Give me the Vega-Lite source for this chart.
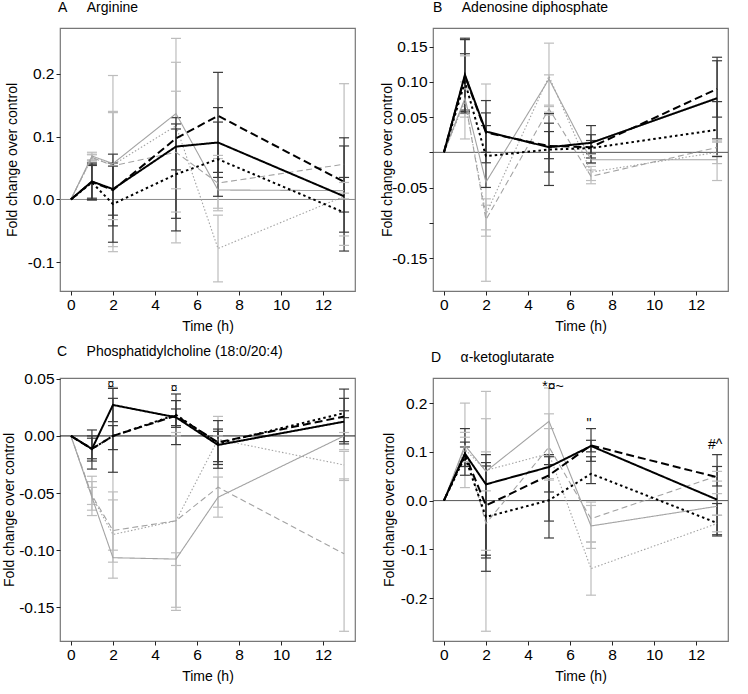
{
"$schema": "https://vega.github.io/schema/vega-lite/v6.json",
"padding": {"left": 1, "top": 0, "right": 0, "bottom": 0},
"background": "white",
"datasets": {
"A": [
{"tone":"g","dash":"solid","t":0,"v":0},{"tone":"g","dash":"solid","t":1,"v":0.069,"lo":0.063,"hi":0.075},{"tone":"g","dash":"solid","t":2,"v":0.057,"lo":-0.083,"hi":0.197},{"tone":"g","dash":"solid","t":5,"v":0.1365,"lo":0.017,"hi":0.256},{"tone":"g","dash":"solid","t":7,"v":0.015,"lo":-0.018,"hi":0.07},{"tone":"g","dash":"solid","t":13,"v":0.014,"lo":0.001,"hi":0.027},
{"tone":"g","dash":"dash","t":0,"v":0},{"tone":"g","dash":"dash","t":1,"v":0.067,"lo":0.062,"hi":0.072},{"tone":"g","dash":"dash","t":2,"v":0.0535,"lo":-0.032,"hi":0.14},{"tone":"g","dash":"dash","t":5,"v":0.075,"lo":-0.02,"hi":0.172},{"tone":"g","dash":"dash","t":7,"v":0.026,"lo":-0.014,"hi":0.065},{"tone":"g","dash":"dash","t":13,"v":0.056,"lo":-0.073,"hi":0.184},
{"tone":"g","dash":"dot","t":0,"v":0},{"tone":"g","dash":"dot","t":1,"v":0.066,"lo":0.061,"hi":0.071},{"tone":"g","dash":"dot","t":2,"v":0.055,"lo":-0.075,"hi":0.138},{"tone":"g","dash":"dot","t":5,"v":0.117,"lo":-0.069,"hi":0.218},{"tone":"g","dash":"dot","t":7,"v":-0.078,"lo":-0.131,"hi":-0.025},{"tone":"g","dash":"dot","t":13,"v":0.005,"lo":-0.058,"hi":0.01},
{"tone":"k","dash":"solid","t":0,"v":0},{"tone":"k","dash":"solid","t":1,"v":0.0286,"lo":-0.001,"hi":0.058},{"tone":"k","dash":"solid","t":2,"v":0.0165,"lo":-0.025,"hi":0.058},{"tone":"k","dash":"solid","t":5,"v":0.084,"lo":0.047,"hi":0.13},{"tone":"k","dash":"solid","t":7,"v":0.0905,"lo":0.035,"hi":0.146},{"tone":"k","dash":"solid","t":13,"v":0.005,"lo":-0.082,"hi":0.098},
{"tone":"k","dash":"dash","t":0,"v":0},{"tone":"k","dash":"dash","t":1,"v":0.028,"lo":0.0,"hi":0.056},{"tone":"k","dash":"dash","t":2,"v":0.015,"lo":-0.042,"hi":0.072},{"tone":"k","dash":"dash","t":5,"v":0.097,"lo":-0.05,"hi":0.12},{"tone":"k","dash":"dash","t":7,"v":0.133,"lo":0.043,"hi":0.202},{"tone":"k","dash":"dash","t":13,"v":0.028,"lo":-0.02,"hi":0.085},
{"tone":"k","dash":"dot","t":0,"v":0},{"tone":"k","dash":"dot","t":1,"v":0.027,"lo":0.002,"hi":0.054},{"tone":"k","dash":"dot","t":2,"v":-0.0073,"lo":-0.068,"hi":0.053},{"tone":"k","dash":"dot","t":5,"v":0.04,"lo":-0.03,"hi":0.112},{"tone":"k","dash":"dot","t":7,"v":0.064,"lo":0.005,"hi":0.123},{"tone":"k","dash":"dot","t":13,"v":-0.0206,"lo":-0.052,"hi":0.035}
],
"B": [
{"tone":"g","dash":"solid","t":0,"v":0},{"tone":"g","dash":"solid","t":1,"v":0.0768,"lo":0.019,"hi":0.137},{"tone":"g","dash":"solid","t":2,"v":-0.0423,"lo":-0.183,"hi":0.097},{"tone":"g","dash":"solid","t":5,"v":0.104,"lo":0.053,"hi":0.155},{"tone":"g","dash":"solid","t":7,"v":-0.0106,"lo":-0.016,"hi":-0.003},{"tone":"g","dash":"solid","t":13,"v":-0.0106,"lo":-0.04,"hi":0.0144},
{"tone":"g","dash":"dash","t":0,"v":0},{"tone":"g","dash":"dash","t":1,"v":0.075,"lo":0.05,"hi":0.1},{"tone":"g","dash":"dash","t":2,"v":-0.0956,"lo":-0.119,"hi":-0.075},{"tone":"g","dash":"dash","t":5,"v":0.0617,"lo":0.057,"hi":0.067},{"tone":"g","dash":"dash","t":7,"v":-0.034,"lo":-0.0446,"hi":-0.025},{"tone":"g","dash":"dash","t":13,"v":0.007,"lo":-0.005,"hi":0.018},
{"tone":"g","dash":"dot","t":0,"v":0},{"tone":"g","dash":"dot","t":1,"v":0.072,"lo":0.055,"hi":0.09},{"tone":"g","dash":"dot","t":2,"v":-0.088,"lo":-0.11,"hi":-0.066},{"tone":"g","dash":"dot","t":5,"v":0.108,"lo":0.065,"hi":0.11},{"tone":"g","dash":"dot","t":7,"v":-0.028,"lo":-0.04,"hi":-0.02},{"tone":"g","dash":"dot","t":13,"v":0.0,"lo":-0.016,"hi":0.016},
{"tone":"k","dash":"solid","t":0,"v":0},{"tone":"k","dash":"solid","t":1,"v":0.11,"lo":0.058,"hi":0.162},{"tone":"k","dash":"solid","t":2,"v":0.0295,"lo":-0.0148,"hi":0.0735},{"tone":"k","dash":"solid","t":5,"v":0.0073,"lo":-0.028,"hi":0.055},{"tone":"k","dash":"solid","t":7,"v":0.0135,"lo":-0.015,"hi":0.038},{"tone":"k","dash":"solid","t":13,"v":0.0768,"lo":0.019,"hi":0.13},
{"tone":"k","dash":"dash","t":0,"v":0},{"tone":"k","dash":"dash","t":1,"v":0.108,"lo":0.056,"hi":0.16},{"tone":"k","dash":"dash","t":2,"v":0.028,"lo":0.0,"hi":0.056},{"tone":"k","dash":"dash","t":5,"v":0.009,"lo":-0.047,"hi":0.0414},{"tone":"k","dash":"dash","t":7,"v":0.0073,"lo":-0.002,"hi":0.0168},{"tone":"k","dash":"dash","t":13,"v":0.09,"lo":0.05,"hi":0.135},
{"tone":"k","dash":"dot","t":0,"v":0},{"tone":"k","dash":"dot","t":1,"v":0.1,"lo":0.06,"hi":0.14},{"tone":"k","dash":"dot","t":2,"v":-0.0054,"lo":-0.0498,"hi":0.038},{"tone":"k","dash":"dot","t":5,"v":0.004,"lo":-0.009,"hi":0.0295},{"tone":"k","dash":"dot","t":7,"v":0.006,"lo":-0.008,"hi":0.025},{"tone":"k","dash":"dot","t":13,"v":0.032,"lo":-0.006,"hi":0.072}
],
"C": [
{"tone":"g","dash":"solid","t":0,"v":0},{"tone":"g","dash":"solid","t":1,"v":-0.0537,"lo":-0.0697,"hi":-0.0353},{"tone":"g","dash":"solid","t":2,"v":-0.1066,"lo":-0.1245,"hi":-0.049},{"tone":"g","dash":"solid","t":5,"v":-0.1078,"lo":-0.1134,"hi":-0.1023},{"tone":"g","dash":"solid","t":7,"v":-0.0537,"lo":-0.0711,"hi":-0.036},{"tone":"g","dash":"solid","t":13,"v":0.0,"lo":-0.012,"hi":0.003},
{"tone":"g","dash":"dash","t":0,"v":0},{"tone":"g","dash":"dash","t":1,"v":-0.052,"lo":-0.06,"hi":-0.045},{"tone":"g","dash":"dash","t":2,"v":-0.0828,"lo":-0.1105,"hi":-0.056},{"tone":"g","dash":"dash","t":5,"v":-0.0743,"lo":-0.15,"hi":0.003},{"tone":"g","dash":"dash","t":7,"v":-0.0449,"lo":-0.0624,"hi":0.0},{"tone":"g","dash":"dash","t":13,"v":-0.1032,"lo":-0.171,"hi":-0.0376},
{"tone":"g","dash":"dot","t":0,"v":0},{"tone":"g","dash":"dot","t":1,"v":-0.053,"lo":-0.065,"hi":-0.04},{"tone":"g","dash":"dot","t":2,"v":-0.0863,"lo":-0.1,"hi":0.0425},{"tone":"g","dash":"dot","t":5,"v":-0.0743,"lo":-0.1527,"hi":0.0},{"tone":"g","dash":"dot","t":7,"v":-0.003,"lo":-0.025,"hi":0.0171},{"tone":"g","dash":"dot","t":13,"v":-0.0254,"lo":-0.039,"hi":-0.0135},
{"tone":"k","dash":"solid","t":0,"v":0},{"tone":"k","dash":"solid","t":1,"v":-0.0114,"lo":-0.029,"hi":0.0052},{"tone":"k","dash":"solid","t":2,"v":0.0271,"lo":0.0125,"hi":0.0416},{"tone":"k","dash":"solid","t":5,"v":0.0163,"lo":-0.0076,"hi":0.0367},{"tone":"k","dash":"solid","t":7,"v":-0.0079,"lo":-0.0283,"hi":0.0134},{"tone":"k","dash":"solid","t":13,"v":0.0125,"lo":-0.007,"hi":0.0329},
{"tone":"k","dash":"dash","t":0,"v":0},{"tone":"k","dash":"dash","t":1,"v":-0.0114,"lo":-0.022,"hi":0.0},{"tone":"k","dash":"dash","t":2,"v":0.0,"lo":-0.0318,"hi":0.0329},{"tone":"k","dash":"dash","t":5,"v":0.0177,"lo":0.009,"hi":0.0309},{"tone":"k","dash":"dash","t":7,"v":-0.0056,"lo":-0.0225,"hi":0.006},{"tone":"k","dash":"dash","t":13,"v":0.017,"lo":-0.005,"hi":0.041},
{"tone":"k","dash":"dot","t":0,"v":0},{"tone":"k","dash":"dot","t":1,"v":-0.0114,"lo":-0.02,"hi":-0.002},{"tone":"k","dash":"dot","t":2,"v":0.0,"lo":-0.012,"hi":0.009},{"tone":"k","dash":"dot","t":5,"v":0.0185,"lo":0.0075,"hi":0.0236},{"tone":"k","dash":"dot","t":7,"v":-0.0065,"lo":-0.025,"hi":0.004},{"tone":"k","dash":"dot","t":13,"v":0.02,"lo":0.016,"hi":0.022}
],
"D": [
{"tone":"g","dash":"solid","t":0,"v":0},{"tone":"g","dash":"solid","t":1,"v":0.1134,"lo":0.0267,"hi":0.2},{"tone":"g","dash":"solid","t":2,"v":0.06,"lo":-0.102,"hi":0.224},{"tone":"g","dash":"solid","t":5,"v":0.1627,"lo":0.094,"hi":0.231},{"tone":"g","dash":"solid","t":7,"v":-0.052,"lo":-0.098,"hi":-0.003},{"tone":"g","dash":"solid","t":13,"v":-0.0117,"lo":-0.03,"hi":0.0143},
{"tone":"g","dash":"dash","t":0,"v":0},{"tone":"g","dash":"dash","t":1,"v":0.11,"lo":0.08,"hi":0.14},{"tone":"g","dash":"dash","t":2,"v":-0.047,"lo":-0.268,"hi":0.168},{"tone":"g","dash":"dash","t":5,"v":0.11,"lo":0.042,"hi":0.178},{"tone":"g","dash":"dash","t":7,"v":-0.037,"lo":-0.085,"hi":-0.01},{"tone":"g","dash":"dash","t":13,"v":0.0505,"lo":0.04,"hi":0.06},
{"tone":"g","dash":"dot","t":0,"v":0},{"tone":"g","dash":"dot","t":1,"v":0.105,"lo":0.08,"hi":0.13},{"tone":"g","dash":"dot","t":2,"v":0.062,"lo":0.02,"hi":0.1},{"tone":"g","dash":"dot","t":5,"v":0.0964,"lo":0.045,"hi":0.1477},{"tone":"g","dash":"dot","t":7,"v":-0.1395,"lo":-0.194,"hi":-0.085},{"tone":"g","dash":"dot","t":13,"v":-0.047,"lo":-0.064,"hi":-0.03},
{"tone":"k","dash":"solid","t":0,"v":0},{"tone":"k","dash":"solid","t":1,"v":0.0964,"lo":0.052,"hi":0.1477},{"tone":"k","dash":"solid","t":2,"v":0.0334,"lo":-0.1177,"hi":0.0943},{"tone":"k","dash":"solid","t":5,"v":0.069,"lo":-0.042,"hi":0.0943},{"tone":"k","dash":"solid","t":7,"v":0.112,"lo":0.0806,"hi":0.1477},{"tone":"k","dash":"solid","t":13,"v":0.002,"lo":-0.0726,"hi":0.0943},
{"tone":"k","dash":"dash","t":0,"v":0},{"tone":"k","dash":"dash","t":1,"v":0.095,"lo":0.07,"hi":0.12},{"tone":"k","dash":"dash","t":2,"v":-0.01,"lo":-0.112,"hi":0.078},{"tone":"k","dash":"dash","t":5,"v":0.052,"lo":0.0177,"hi":0.0738},{"tone":"k","dash":"dash","t":7,"v":0.1134,"lo":0.1,"hi":0.1237},{"tone":"k","dash":"dash","t":13,"v":0.048,"lo":0.03,"hi":0.07},
{"tone":"k","dash":"dot","t":0,"v":0},{"tone":"k","dash":"dot","t":1,"v":0.09,"lo":0.07,"hi":0.11},{"tone":"k","dash":"dot","t":2,"v":-0.0336,"lo":-0.145,"hi":0.071},{"tone":"k","dash":"dot","t":5,"v":0.0006,"lo":-0.0767,"hi":0.09},{"tone":"k","dash":"dot","t":7,"v":0.055,"lo":0.0349,"hi":0.09},{"tone":"k","dash":"dot","t":13,"v":-0.046,"lo":-0.07,"hi":-0.006}
],
"Cann": [{"t":2,"v":0.0454,"label":"¤"},{"t":5,"v":0.0416,"label":"¤"}],
"Dann1": [{"t":5,"v":0.233,"label":"*¤~"}],
"Dann2": [{"t":7,"v":0.1565,"label":"\""},{"t":13,"v":0.115,"label":"#^"}]
},
"bounds": "flush",
"columns": 2,
"spacing": {"row": 87, "column": 78},
"concat": [
{
"title": {"text": "A\u00a0\u00a0\u00a0\u00a0\u00a0Arginine", "dx": -2},
"width": 295, "height": 263,
"data": {"name": "A"},
"resolve": {"scale": {"strokeDash": "independent"}},
"layer": [
{"data": {"values": [{}]}, "mark": {"type": "rule", "color": "#8a8a8a", "strokeWidth": 1}, "encoding": {"y": {"datum": 0, "type": "quantitative", "scale": {"domain": [-0.1455, 0.2725], "nice": false, "zero": false}}}},
{"transform": [{"filter": "datum.t > 0"}], "mark": {"type": "rule", "strokeWidth": 1.2},
 "encoding": {
  "x": {"field": "t", "type": "quantitative", "title": "Time (h)", "scale": {"domain": [-0.52, 13.52], "nice": false, "zero": false}, "axis": {"values": [0,2,4,6,8,10,12]}},
  "y": {"field": "lo", "type": "quantitative", "title": "Fold change over control", "scale": {"domain": [-0.1455, 0.2725], "nice": false, "zero": false}, "axis": {"values": [-0.1,0,0.1,0.2], "titleX": -48, "labelExpr": "datum.value < 0 ? '-' + format(-datum.value, '.1f') : format(datum.value, '.1f')"}},
  "y2": {"field": "hi"},
  "color": {"field": "tone", "type": "nominal", "scale": {"domain": ["g","k"], "range": ["#bdbdbd","#3a3a3a"]}, "legend": null}}},
{"transform": [{"filter": "datum.t > 0"}], "mark": {"type": "tick", "orient": "horizontal", "size": 10, "thickness": 1.2, "opacity": 1},
 "encoding": {"x": {"field": "t", "type": "quantitative", "title": "Time (h)"}, "y": {"field": "lo", "type": "quantitative", "title": "Fold change over control"}, "color": {"field": "tone", "type": "nominal", "legend": null}}},
{"transform": [{"filter": "datum.t > 0"}], "mark": {"type": "tick", "orient": "horizontal", "size": 10, "thickness": 1.2, "opacity": 1},
 "encoding": {"x": {"field": "t", "type": "quantitative", "title": "Time (h)"}, "y": {"field": "hi", "type": "quantitative", "title": "Fold change over control"}, "color": {"field": "tone", "type": "nominal", "legend": null}}},
{"transform": [{"filter": "datum.tone == 'g'"}], "mark": {"type": "line", "color": "#a3a3a3", "strokeWidth": 1.1},
 "encoding": {"x": {"field": "t", "type": "quantitative", "title": "Time (h)"}, "y": {"field": "v", "type": "quantitative", "title": "Fold change over control"}, "strokeDash": {"field": "dash", "type": "nominal", "scale": {"domain": ["solid","dash","dot"], "range": [[1,0],[6,3.5],[1.5,2]]}, "legend": null}}},
{"transform": [{"filter": "datum.tone == 'k'"}], "mark": {"type": "line", "color": "#000000", "strokeWidth": 2},
 "encoding": {"x": {"field": "t", "type": "quantitative", "title": "Time (h)"}, "y": {"field": "v", "type": "quantitative", "title": "Fold change over control"}, "strokeDash": {"field": "dash", "type": "nominal", "scale": {"domain": ["solid","dash","dot"], "range": [[1,0],[8,4],[2.5,3]]}, "legend": null}}}
]
},
{
"title": {"text": "B\u00a0\u00a0\u00a0\u00a0\u00a0Adenosine diphosphate", "dx": 0},
"width": 295, "height": 263,
"data": {"name": "B"},
"resolve": {"scale": {"strokeDash": "independent"}},
"layer": [
{"data": {"values": [{}]}, "mark": {"type": "rule", "color": "#555555", "strokeWidth": 1}, "encoding": {"y": {"datum": 0, "type": "quantitative", "scale": {"domain": [-0.1968, 0.1765], "nice": false, "zero": false}}}},
{"transform": [{"filter": "datum.t > 0"}], "mark": {"type": "rule", "strokeWidth": 1.2},
 "encoding": {
  "x": {"field": "t", "type": "quantitative", "title": "Time (h)", "scale": {"domain": [-0.52, 13.52], "nice": false, "zero": false}, "axis": {"values": [0,2,4,6,8,10,12]}},
  "y": {"field": "lo", "type": "quantitative", "title": "Fold change over control", "scale": {"domain": [-0.1968, 0.1765], "nice": false, "zero": false}, "axis": {"values": [-0.15,-0.1,-0.05,0,0.05,0.1,0.15], "titleX": -46, "labelExpr": "abs(datum.value) < 1e-9 || abs(datum.value + 0.1) < 1e-9 ? '' : (datum.value < 0 ? '-' + format(-datum.value, '.2f') : format(datum.value, '.2f'))"}},
  "y2": {"field": "hi"},
  "color": {"field": "tone", "type": "nominal", "scale": {"domain": ["g","k"], "range": ["#bdbdbd","#3a3a3a"]}, "legend": null}}},
{"transform": [{"filter": "datum.t > 0"}], "mark": {"type": "tick", "orient": "horizontal", "size": 10, "thickness": 1.2, "opacity": 1},
 "encoding": {"x": {"field": "t", "type": "quantitative", "title": "Time (h)"}, "y": {"field": "lo", "type": "quantitative", "title": "Fold change over control"}, "color": {"field": "tone", "type": "nominal", "legend": null}}},
{"transform": [{"filter": "datum.t > 0"}], "mark": {"type": "tick", "orient": "horizontal", "size": 10, "thickness": 1.2, "opacity": 1},
 "encoding": {"x": {"field": "t", "type": "quantitative", "title": "Time (h)"}, "y": {"field": "hi", "type": "quantitative", "title": "Fold change over control"}, "color": {"field": "tone", "type": "nominal", "legend": null}}},
{"transform": [{"filter": "datum.tone == 'g'"}], "mark": {"type": "line", "color": "#a3a3a3", "strokeWidth": 1.1},
 "encoding": {"x": {"field": "t", "type": "quantitative", "title": "Time (h)"}, "y": {"field": "v", "type": "quantitative", "title": "Fold change over control"}, "strokeDash": {"field": "dash", "type": "nominal", "scale": {"domain": ["solid","dash","dot"], "range": [[1,0],[6,3.5],[1.5,2]]}, "legend": null}}},
{"transform": [{"filter": "datum.tone == 'k'"}], "mark": {"type": "line", "color": "#000000", "strokeWidth": 2},
 "encoding": {"x": {"field": "t", "type": "quantitative", "title": "Time (h)"}, "y": {"field": "v", "type": "quantitative", "title": "Fold change over control"}, "strokeDash": {"field": "dash", "type": "nominal", "scale": {"domain": ["solid","dash","dot"], "range": [[1,0],[8,4],[2.5,3]]}, "legend": null}}}
]
},
{
"title": {"text": "C\u00a0\u00a0\u00a0\u00a0\u00a0Phosphatidylcholine (18:0/20:4)", "dx": -3},
"width": 295, "height": 263,
"data": {"name": "C"},
"resolve": {"scale": {"strokeDash": "independent"}},
"layer": [
{"data": {"values": [{}]}, "mark": {"type": "rule", "color": "#111111", "strokeWidth": 1}, "encoding": {"y": {"datum": 0, "type": "quantitative", "scale": {"domain": [-0.1795, 0.0507], "nice": false, "zero": false}}}},
{"transform": [{"filter": "datum.t > 0"}], "mark": {"type": "rule", "strokeWidth": 1.2},
 "encoding": {
  "x": {"field": "t", "type": "quantitative", "title": "Time (h)", "scale": {"domain": [-0.52, 13.52], "nice": false, "zero": false}, "axis": {"values": [0,2,4,6,8,10,12]}},
  "y": {"field": "lo", "type": "quantitative", "title": "Fold change over control", "scale": {"domain": [-0.1795, 0.0507], "nice": false, "zero": false}, "axis": {"values": [-0.15,-0.1,-0.05,0,0.05], "titleX": -51, "labelExpr": "datum.value < 0 ? '-' + format(-datum.value, '.2f') : format(datum.value, '.2f')"}},
  "y2": {"field": "hi"},
  "color": {"field": "tone", "type": "nominal", "scale": {"domain": ["g","k"], "range": ["#bdbdbd","#3a3a3a"]}, "legend": null}}},
{"transform": [{"filter": "datum.t > 0"}], "mark": {"type": "tick", "orient": "horizontal", "size": 10, "thickness": 1.2, "opacity": 1},
 "encoding": {"x": {"field": "t", "type": "quantitative", "title": "Time (h)"}, "y": {"field": "lo", "type": "quantitative", "title": "Fold change over control"}, "color": {"field": "tone", "type": "nominal", "legend": null}}},
{"transform": [{"filter": "datum.t > 0"}], "mark": {"type": "tick", "orient": "horizontal", "size": 10, "thickness": 1.2, "opacity": 1},
 "encoding": {"x": {"field": "t", "type": "quantitative", "title": "Time (h)"}, "y": {"field": "hi", "type": "quantitative", "title": "Fold change over control"}, "color": {"field": "tone", "type": "nominal", "legend": null}}},
{"transform": [{"filter": "datum.tone == 'g'"}], "mark": {"type": "line", "color": "#a3a3a3", "strokeWidth": 1.1},
 "encoding": {"x": {"field": "t", "type": "quantitative", "title": "Time (h)"}, "y": {"field": "v", "type": "quantitative", "title": "Fold change over control"}, "strokeDash": {"field": "dash", "type": "nominal", "scale": {"domain": ["solid","dash","dot"], "range": [[1,0],[6,3.5],[1.5,2]]}, "legend": null}}},
{"transform": [{"filter": "datum.tone == 'k'"}], "mark": {"type": "line", "color": "#000000", "strokeWidth": 2},
 "encoding": {"x": {"field": "t", "type": "quantitative", "title": "Time (h)"}, "y": {"field": "v", "type": "quantitative", "title": "Fold change over control"}, "strokeDash": {"field": "dash", "type": "nominal", "scale": {"domain": ["solid","dash","dot"], "range": [[1,0],[8,4],[2.5,3]]}, "legend": null}}},
{"data": {"name": "Cann"}, "mark": {"type": "text", "fontSize": 12, "baseline": "middle", "align": "center", "dx": -2, "color": "#000000"},
 "encoding": {"x": {"field": "t", "type": "quantitative", "title": "Time (h)"}, "y": {"field": "v", "type": "quantitative", "title": "Fold change over control"}, "text": {"field": "label"}}}
]
},
{
"title": {"text": "D\u00a0\u00a0\u00a0\u00a0\u00a0α-ketoglutarate", "dx": -2},
"width": 295, "height": 263,
"data": {"name": "D"},
"resolve": {"scale": {"strokeDash": "independent"}},
"layer": [
{"data": {"values": [{}]}, "mark": {"type": "rule", "color": "#555555", "strokeWidth": 1}, "encoding": {"y": {"datum": 0, "type": "quantitative", "scale": {"domain": [-0.288, 0.2515], "nice": false, "zero": false}}}},
{"transform": [{"filter": "datum.t > 0"}], "mark": {"type": "rule", "strokeWidth": 1.2},
 "encoding": {
  "x": {"field": "t", "type": "quantitative", "title": "Time (h)", "scale": {"domain": [-0.52, 13.52], "nice": false, "zero": false}, "axis": {"values": [0,2,4,6,8,10,12]}},
  "y": {"field": "lo", "type": "quantitative", "title": "Fold change over control", "scale": {"domain": [-0.288, 0.2515], "nice": false, "zero": false}, "axis": {"values": [-0.2,-0.1,0,0.1,0.2], "titleX": -44, "labelExpr": "datum.value < 0 ? '-' + format(-datum.value, '.1f') : format(datum.value, '.1f')"}},
  "y2": {"field": "hi"},
  "color": {"field": "tone", "type": "nominal", "scale": {"domain": ["g","k"], "range": ["#bdbdbd","#3a3a3a"]}, "legend": null}}},
{"transform": [{"filter": "datum.t > 0"}], "mark": {"type": "tick", "orient": "horizontal", "size": 10, "thickness": 1.2, "opacity": 1},
 "encoding": {"x": {"field": "t", "type": "quantitative", "title": "Time (h)"}, "y": {"field": "lo", "type": "quantitative", "title": "Fold change over control"}, "color": {"field": "tone", "type": "nominal", "legend": null}}},
{"transform": [{"filter": "datum.t > 0"}], "mark": {"type": "tick", "orient": "horizontal", "size": 10, "thickness": 1.2, "opacity": 1},
 "encoding": {"x": {"field": "t", "type": "quantitative", "title": "Time (h)"}, "y": {"field": "hi", "type": "quantitative", "title": "Fold change over control"}, "color": {"field": "tone", "type": "nominal", "legend": null}}},
{"transform": [{"filter": "datum.tone == 'g'"}], "mark": {"type": "line", "color": "#a3a3a3", "strokeWidth": 1.1},
 "encoding": {"x": {"field": "t", "type": "quantitative", "title": "Time (h)"}, "y": {"field": "v", "type": "quantitative", "title": "Fold change over control"}, "strokeDash": {"field": "dash", "type": "nominal", "scale": {"domain": ["solid","dash","dot"], "range": [[1,0],[6,3.5],[1.5,2]]}, "legend": null}}},
{"transform": [{"filter": "datum.tone == 'k'"}], "mark": {"type": "line", "color": "#000000", "strokeWidth": 2},
 "encoding": {"x": {"field": "t", "type": "quantitative", "title": "Time (h)"}, "y": {"field": "v", "type": "quantitative", "title": "Fold change over control"}, "strokeDash": {"field": "dash", "type": "nominal", "scale": {"domain": ["solid","dash","dot"], "range": [[1,0],[8,4],[2.5,3]]}, "legend": null}}},
{"data": {"name": "Dann1"}, "mark": {"type": "text", "fontSize": 14, "baseline": "middle", "align": "center", "dx": 4, "color": "#000000"},
 "encoding": {"x": {"field": "t", "type": "quantitative", "title": "Time (h)"}, "y": {"field": "v", "type": "quantitative", "title": "Fold change over control"}, "text": {"field": "label"}}},
{"data": {"name": "Dann2"}, "mark": {"type": "text", "fontSize": 14, "baseline": "middle", "align": "center", "dx": -2, "color": "#000000"},
 "encoding": {"x": {"field": "t", "type": "quantitative", "title": "Time (h)"}, "y": {"field": "v", "type": "quantitative", "title": "Fold change over control"}, "text": {"field": "label"}}}
]
}
],
"config": {
 "font": "Liberation Sans",
 "view": {"stroke": "#777777", "strokeWidth": 1.2},
 "title": {"anchor": "start", "frame": "group", "fontSize": 14, "fontWeight": "normal", "font": "Liberation Sans", "color": "#000000", "baseline": "alphabetic", "offset": 13},
 "axis": {"domain": false, "grid": false, "tickSize": 4, "tickColor": "#222222", "labelPadding": 2, "labelFontSize": 15.5, "labelFont": "Liberation Sans", "labelColor": "#000000", "titleFontSize": 14, "titleFont": "Liberation Sans", "titleFontWeight": "normal", "titleColor": "#000000", "labelOverlap": false, "labelFlush": false},
 "axisX": {"titleY": 35.5, "titleBaseline": "middle"},
 "axisY": {"titleAngle": -90, "titleBaseline": "middle", "titleAlign": "center", "titleY": 131.5}
}
}
